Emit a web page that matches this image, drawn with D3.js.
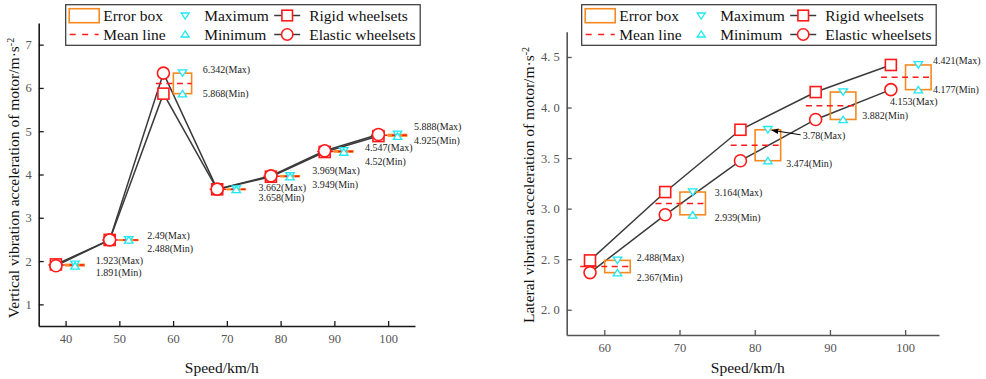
<!DOCTYPE html>
<html>
<head>
<meta charset="utf-8">
<script src="https://cdn.jsdelivr.net/npm/d3@7"></script>
<style>
  body { margin: 0; background: #fff; }
  svg { display: block; font-family: 'Liberation Serif', 'Times New Roman', serif; }
</style>
</head>
<body>
<svg id="chart" width="986" height="379"></svg>
<script>
// ---- data: vertical (left panel)
const vSpeeds = [40, 50, 60, 70, 80, 90, 100];
const vRigid = [1.923, 2.488, 5.868, 3.658, 3.949, 4.52, 4.888];
const vElastic = [1.891, 2.49, 6.342, 3.662, 3.969, 4.547, 4.925];
const vMaxLabels = ['1.923(Max)', '2.49(Max)', '6.342(Max)', '3.662(Max)', '3.969(Max)', '4.547(Max)', '5.888(Max)'];
const vMinLabels = ['1.891(Min)', '2.488(Min)', '5.868(Min)', '3.658(Min)', '3.949(Min)', '4.52(Min)', '4.925(Min)'];
const vXTicks = [40, 50, 60, 70, 80, 90, 100];
const vYTicks = [1, 2, 3, 4, 5, 6, 7];

// ---- data: lateral (right panel)
const lSpeeds = [60, 70, 80, 90, 100];
const lRigid = [2.488, 3.164, 3.78, 4.153, 4.421];
const lElastic = [2.367, 2.939, 3.474, 3.882, 4.177];
const lMaxLabels = ['2.488(Max)', '3.164(Max)', '3.78(Max)', '4.153(Max)', '4.421(Max)'];
const lMinLabels = ['2.367(Min)', '2.939(Min)', '3.474(Min)', '3.882(Min)', '4.177(Min)'];
const lXTicks = [60, 70, 80, 90, 100];
const lYTicks = [2.0, 2.5, 3.0, 3.5, 4.0, 4.5];

const legendRows = [
  ['Error box', 'Maximum', 'Rigid wheelsets'],
  ['Mean line', 'Minimum', 'Elastic wheelsets']
];

// label anchor positions (in data units: [speed, value])
const vMaxPos = [[45.6, 2.02], [55.2, 2.60], [65.5, 6.43], [75.9, 3.69], [85.9, 4.09], [95.7, 4.63], [104.8, 5.10]];
const vMinPos = [[45.6, 1.74], [55.2, 2.29], [65.5, 5.87], [75.9, 3.46], [85.9, 3.78], [95.7, 4.31], [104.8, 4.78]];
const lMaxPos = [[64.3, 2.515], [74.7, 3.157], [86.4, 3.72], [98.0, 4.06], [103.7, 4.47]];
const lMinPos = [[64.3, 2.32], [74.7, 2.917], [84.2, 3.45], [94.3, 3.92], [103.7, 4.18]];

const RED = '#ff1a1a';
const ORANGE = '#f7891f';
const CYAN = '#1ee8f2';
const LINE = '#3a3a3a';

const svg = d3.select('#chart');

const defs = svg.append('defs');
defs.append('marker')
  .attr('id', 'arrowhead')
  .attr('viewBox', '0 0 10 10')
  .attr('refX', 9).attr('refY', 5)
  .attr('markerWidth', 7).attr('markerHeight', 7)
  .attr('orient', 'auto')
  .append('path')
  .attr('d', 'M0,1 L10,5 L0,9 Z')
  .attr('fill', '#000');

function triPath(cx, cy, w, h, down) {
  if (down) {
    return `M${cx - w / 2},${cy - h / 2}L${cx + w / 2},${cy - h / 2}L${cx},${cy + h / 2}Z`;
  }
  return `M${cx - w / 2},${cy + h / 2}L${cx + w / 2},${cy + h / 2}L${cx},${cy - h / 2}Z`;
}

function drawPanel(p) {
  const g = svg.append('g');

  const x = d3.scaleLinear().domain(p.xDomain).range([p.x0, p.x1]);
  const y = d3.scaleLinear().domain(p.yDomain).range([p.y1, p.y0]);

  const rows = p.speeds.map((s, i) => {
    const hi = Math.max(p.rigid[i], p.elastic[i]);
    const lo = Math.min(p.rigid[i], p.elastic[i]);
    return { s, r: p.rigid[i], e: p.elastic[i], hi, lo, mean: (hi + lo) / 2 };
  });

  // axes
  const xAxis = g.append('g')
    .attr('transform', 'translate(0,' + p.y1 + ')')
    .call(d3.axisBottom(x).tickValues(p.xTicks).tickSizeInner(-5).tickSizeOuter(0)
      .tickPadding(8).tickFormat(d3.format('d')));
  const yAxis = g.append('g')
    .attr('transform', 'translate(' + p.x0 + ',0)')
    .call(d3.axisLeft(y).tickValues(p.yTicks).tickSizeInner(-5).tickSizeOuter(0)
      .tickPadding(7).tickFormat(p.yFormat));

  [xAxis, yAxis].forEach((a) => {
    a.attr('font-family', null).attr('font-size', null);
    a.select('.domain').attr('stroke', p.axisColor).attr('stroke-width', 1.6);
    a.selectAll('.tick line').attr('stroke', p.axisColor).attr('stroke-width', 1.3);
    a.selectAll('.tick text').attr('fill', '#555').style('font-size', '12.5px');
  });

  // axis titles
  g.append('text')
    .attr('x', (p.x0 + p.x1) / 2 - 5)
    .attr('y', 373)
    .attr('text-anchor', 'middle')
    .style('font-size', '15.5px')
    .attr('fill', '#111')
    .text('Speed/km/h');

  const yt = g.append('text')
    .attr('transform', 'translate(' + p.titleX + ',' + p.titleY + ') rotate(-90)')
    .attr('text-anchor', 'middle')
    .style('font-size', '15.5px')
    .attr('fill', '#111');
  yt.append('tspan').text(p.yTitle);
  yt.append('tspan').attr('baseline-shift', 'super').style('font-size', '10px').text('-2');

  // connecting lines
  const line = (key) => d3.line()
    .x((d) => x(d.s + p.markerShift))
    .y((d) => y(d[key]));

  g.append('path').datum(rows)
    .attr('d', line('r'))
    .attr('fill', 'none').attr('stroke', LINE).attr('stroke-width', 1.5);
  g.append('path').datum(rows)
    .attr('d', line('e'))
    .attr('fill', 'none').attr('stroke', LINE).attr('stroke-width', 1.5);

  // error boxes
  g.selectAll('.ebox').data(rows).enter().append('rect')
    .attr('class', 'ebox')
    .attr('x', (d) => x(d.s + p.boxStart))
    .attr('width', (d) => x(d.s + p.boxEnd) - x(d.s + p.boxStart))
    .attr('y', (d) => y(d.hi))
    .attr('height', (d) => Math.max(0.5, y(d.lo) - y(d.hi)))
    .attr('fill', 'none').attr('stroke', ORANGE).attr('stroke-width', 1.6);

  // mean lines
  g.selectAll('.mean').data(rows).enter().append('line')
    .attr('class', 'mean')
    .attr('x1', (d) => x(d.s + p.meanStart))
    .attr('x2', (d) => x(d.s + p.boxEnd))
    .attr('y1', (d) => y(d.mean))
    .attr('y2', (d) => y(d.mean))
    .attr('stroke', RED).attr('stroke-width', 1.5)
    .attr('stroke-dasharray', '6,4.5');

  // max / min triangles
  const mid = (p.boxStart + p.boxEnd) / 2;
  g.selectAll('.tmax').data(rows).enter().append('path')
    .attr('d', (d) => triPath(x(d.s + mid), y(d.hi), 8.5, 6.5, true))
    .attr('fill', '#fff').attr('stroke', CYAN).attr('stroke-width', 1.3);
  g.selectAll('.tmin').data(rows).enter().append('path')
    .attr('d', (d) => triPath(x(d.s + mid), y(d.lo), 8.5, 6.5, false))
    .attr('fill', '#fff').attr('stroke', CYAN).attr('stroke-width', 1.3);

  // markers
  g.selectAll('.sq').data(rows).enter().append('rect')
    .attr('x', (d) => x(d.s + p.markerShift) - 5.5)
    .attr('y', (d) => y(d.r) - 5.5)
    .attr('width', 11).attr('height', 11)
    .attr('fill', '#fff').attr('stroke', RED).attr('stroke-width', 1.6);
  g.selectAll('.ci').data(rows).enter().append('circle')
    .attr('cx', (d) => x(d.s + p.markerShift))
    .attr('cy', (d) => y(d.e))
    .attr('r', 6)
    .attr('fill', '#fff').attr('stroke', RED).attr('stroke-width', 1.6);

  // value labels
  const addLabels = (texts, pos) => {
    g.selectAll(null).data(texts).enter().append('text')
      .attr('x', (d, i) => x(pos[i][0]))
      .attr('y', (d, i) => y(pos[i][1]))
      .attr('dy', '0.35em')
      .style('font-size', '10px')
      .attr('fill', '#222')
      .text((d) => d);
  };
  addLabels(p.maxLabels, p.maxPos);
  addLabels(p.minLabels, p.minPos);

  if (p.arrow) {
    g.append('line')
      .attr('x1', x(p.arrow[0][0])).attr('y1', y(p.arrow[0][1]))
      .attr('x2', x(p.arrow[1][0])).attr('y2', y(p.arrow[1][1]))
      .attr('stroke', '#000').attr('stroke-width', 1)
      .attr('marker-end', 'url(#arrowhead)');
  }

  drawLegend(p.legendX);
}

function drawLegend(ox) {
  const lg = svg.append('g').attr('transform', 'translate(' + ox + ',0)');
  lg.append('rect')
    .attr('x', 0).attr('y', 4.7)
    .attr('width', 354.5).attr('height', 40.6)
    .attr('fill', '#fff').attr('stroke', '#333').attr('stroke-width', 1.2);

  const rowY = [15.5, 34.5];
  const textX = [37.5, 138.5, 243.5];

  // column 1 symbols
  lg.append('rect')
    .attr('x', 3.5).attr('y', 8.7).attr('width', 30).attr('height', 14)
    .attr('fill', 'none').attr('stroke', ORANGE).attr('stroke-width', 1.6);
  lg.append('line')
    .attr('x1', 4).attr('x2', 33).attr('y1', rowY[1]).attr('y2', rowY[1])
    .attr('stroke', RED).attr('stroke-width', 1.5).attr('stroke-dasharray', '6,6.5');

  // column 2 symbols
  lg.append('path').attr('d', triPath(119.5, rowY[0] + 0.5, 8, 6, true))
    .attr('fill', 'none').attr('stroke', CYAN).attr('stroke-width', 1.3);
  lg.append('path').attr('d', triPath(119.5, rowY[1] - 0.5, 8, 6, false))
    .attr('fill', 'none').attr('stroke', CYAN).attr('stroke-width', 1.3);

  // column 3 symbols
  rowY.forEach((yy) => {
    lg.append('line')
      .attr('x1', 208.5).attr('x2', 234.5).attr('y1', yy).attr('y2', yy)
      .attr('stroke', LINE).attr('stroke-width', 1.5);
  });
  lg.append('rect')
    .attr('x', 221.5 - 5.3).attr('y', rowY[0] - 5.3).attr('width', 10.6).attr('height', 10.6)
    .attr('fill', '#fff').attr('stroke', RED).attr('stroke-width', 1.6);
  lg.append('circle')
    .attr('cx', 221.5).attr('cy', rowY[1]).attr('r', 5.7)
    .attr('fill', '#fff').attr('stroke', RED).attr('stroke-width', 1.6);

  legendRows.forEach((row, ri) => {
    row.forEach((t, ci) => {
      lg.append('text')
        .attr('x', textX[ci]).attr('y', rowY[ri] + 5.3)
        .style('font-size', '15.5px')
        .attr('fill', '#111')
        .text(t);
    });
  });
}

drawPanel({
  x0: 38.7, x1: 415, y0: 23, y1: 326,
  xDomain: [35, 105], yDomain: [0.5, 7.5],
  xTicks: vXTicks, yTicks: vYTicks,
  yFormat: d3.format('d'),
  speeds: vSpeeds, rigid: vRigid, elastic: vElastic,
  maxLabels: vMaxLabels, minLabels: vMinLabels,
  maxPos: vMaxPos, minPos: vMinPos,
  markerShift: -1.8, boxStart: 0.05, boxEnd: 3.45, meanStart: -3.2,
  axisColor: '#1a1a1a',
  yTitle: 'Vertical vibration acceleration of motor/m\u00b7s',
  titleX: 19, titleY: 178,
  legendX: 65.7
});

drawPanel({
  x0: 566.7, x1: 939, y0: 31.7, y1: 335,
  xDomain: [55, 104.5], yDomain: [1.75, 4.75],
  xTicks: lXTicks, yTicks: lYTicks,
  yFormat: (d) => d.toFixed(1).replace('.', '. '),
  speeds: lSpeeds, rigid: lRigid, elastic: lElastic,
  maxLabels: lMaxLabels, minLabels: lMinLabels,
  maxPos: lMaxPos, minPos: lMinPos,
  markerShift: -1.9, boxStart: 0.05, boxEnd: 3.45, meanStart: -3.2,
  axisColor: '#555',
  yTitle: 'Lateral vibration acceleration of motor/m\u00b7s',
  titleX: 533.5, titleY: 185,
  legendX: 581.7,
  arrow: [[86.1, 3.73], [82.3, 3.775]]
});
</script>
</body>
</html>
